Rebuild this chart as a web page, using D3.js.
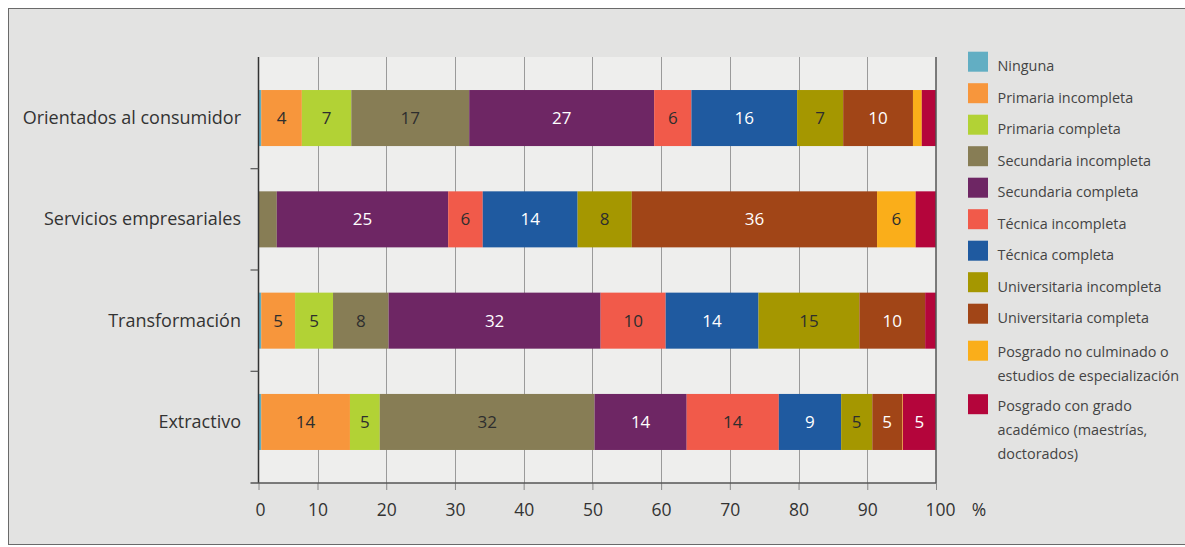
<!DOCTYPE html>
<html><head><meta charset="utf-8">
<script src="https://cdn.jsdelivr.net/npm/d3@7"></script>
<style>
html,body{margin:0;padding:0;background:#fff;}
svg{display:block;font-family:"Open Sans",sans-serif;}
</style></head>
<body>
<svg id="chart" width="1185" height="547"></svg>
<script>
const categories = ["Orientados al consumidor","Servicios empresariales","Transformación","Extractivo"];
const levels = ["Ninguna","Primaria incompleta","Primaria completa","Secundaria incompleta","Secundaria completa","Técnica incompleta","Técnica completa","Universitaria incompleta","Universitaria completa","Posgrado no culminado o|estudios de especialización","Posgrado con grado|académico (maestrías,|doctorados)"];
const colors = ["#62AEC3","#F7963C","#B2D235","#877D55","#6E2664","#F15A4A","#1F5AA0","#A59700","#A14517","#FAAE1A","#B4053B"];
const whiteText = [false,false,false,false,true,false,true,false,true,false,true];

const orientados     = [0.4, 6.0, 7.3, 17.4, 27.3, 5.5, 15.6, 6.8, 10.3, 1.3, 2.1];
const servicios      = [0, 0, 0, 2.7, 25.3, 5.1, 14.0, 8.0, 36.2, 5.7, 3.0];
const transformacion = [0.4, 5.0, 5.6, 8.2, 31.3, 9.6, 13.7, 14.9, 9.7, 0, 1.6];
const extractivo     = [0.4, 13.1, 4.4, 31.7, 13.6, 13.6, 9.2, 4.6, 4.4, 0.1, 4.9];

const orientadosLabels     = ["","4","7","17","27","6","16","7","10","",""];
const serviciosLabels      = ["","","","","25","6","14","8","36","6",""];
const transformacionLabels = ["","5","5","8","32","10","14","15","10","",""];
const extractivoLabels     = ["","14","5","32","14","14","9","5","5","","5"];

const tickValues = [0,10,20,30,40,50,60,70,80,90,100];

const seriesByCat = [orientados, servicios, transformacion, extractivo];
const labelsByCat = [orientadosLabels, serviciosLabels, transformacionLabels, extractivoLabels];

const svg = d3.select("#chart");
const W = 1185, H = 547;
const plot = {left: 258.5, right: 936, top: 57, bottom: 483};

// frame
svg.append("rect").attr("x",8.5).attr("y",8.5).attr("width",W+10).attr("height",H-11)
  .attr("fill","#E3E3E2").attr("stroke","#6a6a6a").attr("stroke-width",1);

const x = d3.scaleLinear().domain([0,100]).range([plot.left, plot.right]);
// axis / grid scale as drawn in the source (first interval is narrower)
const xAxisScale = d3.scaleLinear().domain([0,10,100]).range([plot.left, plot.left + 59, plot.right]);
const y = d3.scaleBand().domain(categories).range([plot.top, plot.bottom]).paddingInner(0.447).paddingOuter(0.326);

// plot background
svg.append("rect").attr("x",plot.left).attr("y",plot.top).attr("width",plot.right-plot.left).attr("height",plot.bottom-plot.top)
  .attr("fill","#EEEEED");

// grid lines
svg.append("g").selectAll("line").data(tickValues.filter(d=>d>0 && d<100)).join("line")
  .attr("x1",d=>Math.round(xAxisScale(d))+0.5).attr("x2",d=>Math.round(xAxisScale(d))+0.5)
  .attr("y1",plot.top).attr("y2",plot.bottom)
  .attr("stroke","#9a9a9a").attr("stroke-width",1);

// stacked bars
const stacks = categories.map((c,ci)=>{
  let acc = 0;
  return seriesByCat[ci].map((v,li)=>{
    const s = {cat:c, li, x0:acc, x1:acc+v, label:labelsByCat[ci][li]};
    acc += v; return s;
  });
});
const gBars = svg.append("g");
stacks.forEach(row=>{
  gBars.selectAll(null).data(row.filter(d=>d.x1>d.x0)).join("rect")
    .attr("x",d=>x(d.x0)).attr("width",d=>x(d.x1)-x(d.x0))
    .attr("y",d=>y(d.cat)).attr("height",y.bandwidth())
    .attr("fill",d=>colors[d.li]);
  gBars.selectAll(null).data(row.filter(d=>d.label!=="")).join("text")
    .attr("x",d=>(x(d.x0)+x(d.x1))/2).attr("y",d=>y(d.cat)+y.bandwidth()/2)
    .attr("dy","0.36em").attr("text-anchor","middle")
    .attr("font-size",17)
    .attr("fill",d=>whiteText[d.li]?"#ffffff":"#2e2e2e")
    .text(d=>d.label);
});

// right border of plot
svg.append("line").attr("x1",plot.right).attr("x2",plot.right).attr("y1",plot.top).attr("y2",plot.bottom)
  .attr("stroke","#555").attr("stroke-width",1.5);
// left axis line
svg.append("line").attr("x1",plot.left).attr("x2",plot.left).attr("y1",plot.top).attr("y2",plot.bottom)
  .attr("stroke","#333").attr("stroke-width",1.5);

// category separator ticks on left
const step = y.step();
const sepYs = categories.slice(0,-1).map(c=>y(c)+y.bandwidth()+(step-y.bandwidth())/2);
svg.append("g").selectAll("line").data(sepYs).join("line")
  .attr("x1",plot.left-8).attr("x2",plot.left).attr("y1",d=>d).attr("y2",d=>d)
  .attr("stroke","#555").attr("stroke-width",1.2);

// bottom axis
const xAxis = d3.axisBottom(xAxisScale).tickValues(tickValues).tickSize(7).tickPadding(14).tickFormat(d3.format("d"));
const gx = svg.append("g").attr("transform",`translate(0,${plot.bottom})`).call(xAxis);
gx.select(".domain").remove();
gx.selectAll(".tick line").attr("stroke","#888");
gx.selectAll(".tick text").attr("font-size",17.5).attr("fill","#333").attr("font-family","Open Sans")
  .attr("dx",d=>d===100?4:(d===0?1.5:0));
gx.append("line").attr("x1",plot.left-8).attr("x2",plot.right).attr("y1",0).attr("y2",0)
  .attr("stroke","#555").attr("stroke-width",1.5);
svg.append("text").attr("x",979).attr("y",plot.bottom+27).attr("dy","0.32em")
  .attr("text-anchor","middle").attr("font-size",17.5).attr("fill","#333").text("%");

// category labels
svg.append("g").selectAll("text").data(categories).join("text")
  .attr("x",241).attr("y",d=>y(d)+y.bandwidth()/2).attr("dy","0.34em")
  .attr("text-anchor","end").attr("font-size",18).attr("fill","#333").text(d=>d);

// legend
const legend = svg.append("g");
let ly = 51.7, prevLines = 1;
levels.forEach((lab,i)=>{
  const lines = lab.split("|");
  if (i>0) {
    ly += 31.5 + 24*(prevLines-1) - (prevLines>1?2:0);
    if (lines.length>1 && prevLines===1) ly += 5.5;
  }
  legend.append("rect").attr("x",968).attr("y",ly).attr("width",20).attr("height",20).attr("fill",colors[i]);
  const t = legend.append("text").attr("x",997.5).attr("y",ly+(lines.length>1?16.5:19.5)).attr("font-size",14.4).attr("fill","#444");
  lines.forEach((ln,k)=>{
    t.append("tspan").attr("x",997.5).attr("dy",k===0?0:24).text(ln);
  });
  prevLines = lines.length;
});
</script>
</body></html>
